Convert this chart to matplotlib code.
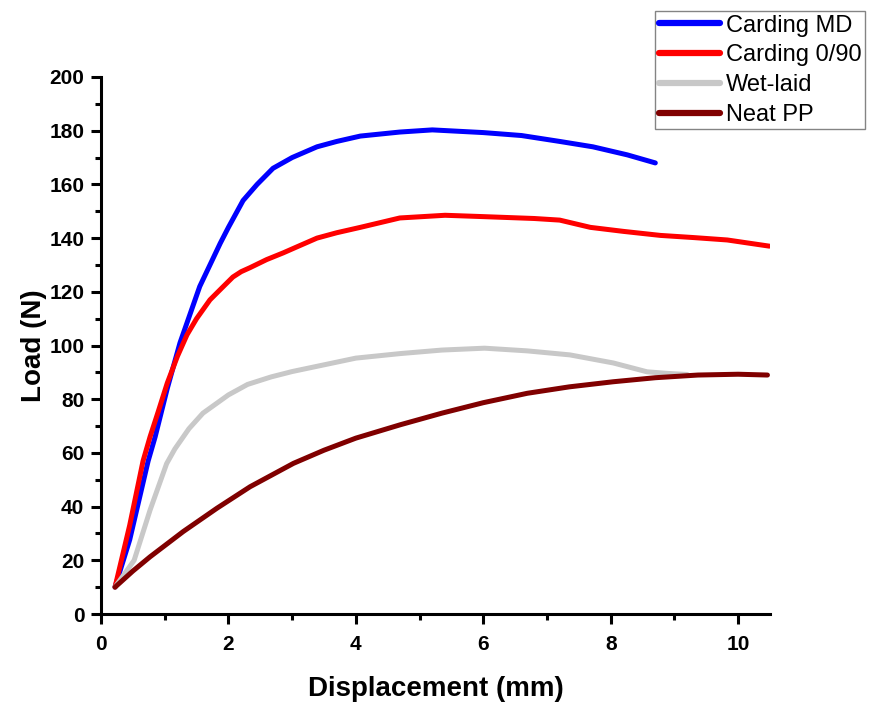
import numpy as np
import matplotlib
matplotlib.use("Agg")
import matplotlib.pyplot as plt
from matplotlib.ticker import MultipleLocator

plt.rcParams["font.family"] = ["Liberation Sans", "DejaVu Sans"]

# Load-displacement readings for each specimen type
md_x = [0.22, 0.45, 0.74, 0.85, 1.04, 1.24, 1.55, 1.87, 2.00, 2.23, 2.45, 2.70, 3.00,
        3.39, 3.70, 4.07, 4.69, 5.20, 6.00, 6.60, 7.20, 7.72, 8.26, 8.70]
md_y = [10, 27.6, 57, 66, 84, 101, 122, 138, 144, 154, 160, 166, 170,
        174, 176, 178, 179.5, 180.3, 179.3, 178.2, 176, 174, 171, 168]

cd_x = [0.22, 0.45, 0.66, 0.77, 0.90, 1.04, 1.20, 1.35, 1.50, 1.71, 1.90, 2.07, 2.20,
        2.34, 2.60, 2.86, 3.10, 3.39, 3.70, 4.07, 4.69, 5.40, 6.00, 6.80, 7.20,
        7.68, 8.20, 8.78, 9.30, 9.83, 10.49]
cd_y = [10, 33, 57, 66, 75.5, 86, 96, 104, 110, 117, 121.5, 125.5, 127.5,
        129, 132, 134.5, 137, 140, 142, 144, 147.5, 148.5, 148, 147.3, 146.7,
        144, 142.5, 141, 140.2, 139.3, 137]

wl_x = [0.22, 0.52, 0.77, 1.03, 1.16, 1.38, 1.60, 2.00, 2.30, 2.67, 3.00, 3.34, 4.00,
        4.70, 5.35, 6.02, 6.69, 7.36, 8.04, 8.57, 8.90, 9.20]
wl_y = [10, 20, 38.7, 56, 61.5, 69, 74.8, 81.6, 85.5, 88.3, 90.3, 92, 95.3,
        97, 98.3, 99, 98, 96.5, 93.5, 90.2, 89.6, 89.2]

pp_x = [0.22, 0.50, 0.77, 1.29, 1.82, 2.34, 3.02, 3.50, 4.00, 4.70, 5.35, 6.00, 6.69,
        7.35, 8.04, 8.70, 9.37, 10.00, 10.46]
pp_y = [10, 16, 21.3, 30.7, 39.4, 47.4, 56.1, 61, 65.5, 70.5, 74.8, 78.7, 82.2,
        84.6, 86.5, 88, 89, 89.3, 89]

series = [
    ("Carding MD", md_x, md_y, "#0000ff"),
    ("Carding 0/90", cd_x, cd_y, "#ff0000"),
    ("Wet-laid", wl_x, wl_y, "#c8c8c8"),
    ("Neat PP", pp_x, pp_y, "#800000"),
]

fig = plt.figure(figsize=(8.72, 7.02), dpi=100)
ax = fig.add_axes([101 / 872, 88 / 702, 669 / 872, 537 / 702])

for label, x, y, c in series:
    ax.plot(x, y, color=c, lw=3.6, label=label, solid_capstyle="round",
            solid_joinstyle="round")

ax.set_xlim(0, 10.5)
ax.set_ylim(0, 200)
ax.xaxis.set_major_locator(MultipleLocator(2))
ax.xaxis.set_minor_locator(MultipleLocator(1))
ax.yaxis.set_major_locator(MultipleLocator(20))
ax.yaxis.set_minor_locator(MultipleLocator(10))

for side in ("top", "right"):
    ax.spines[side].set_visible(False)
for side in ("left", "bottom"):
    ax.spines[side].set_linewidth(2.2)

ax.tick_params(which="major", length=7, width=2.2, labelsize=15, pad=5)
ax.tick_params(axis="x", which="major", pad=8)
ax.tick_params(which="minor", length=4.5, width=2.2)
for t in ax.get_xticklabels() + ax.get_yticklabels():
    t.set_fontweight("bold")

ax.set_xlabel("Displacement (mm)", fontsize=20, fontweight="bold", labelpad=16)
ax.set_ylabel("Load (N)", fontsize=20, fontweight="bold", labelpad=2)

leg = fig.legend(loc="upper left", bbox_to_anchor=(655 / 872, 1 - 11 / 702),
                 fontsize=17, frameon=True, fancybox=False, edgecolor="#666666",
                 handlelength=2.6, handletextpad=0.25, borderpad=0.15,
                 labelspacing=0.33, borderaxespad=0)
leg.get_frame().set_linewidth(1.0)
for h in leg.get_lines():
    h.set_linewidth(4.5)

fig.savefig("out.png", dpi=100)
